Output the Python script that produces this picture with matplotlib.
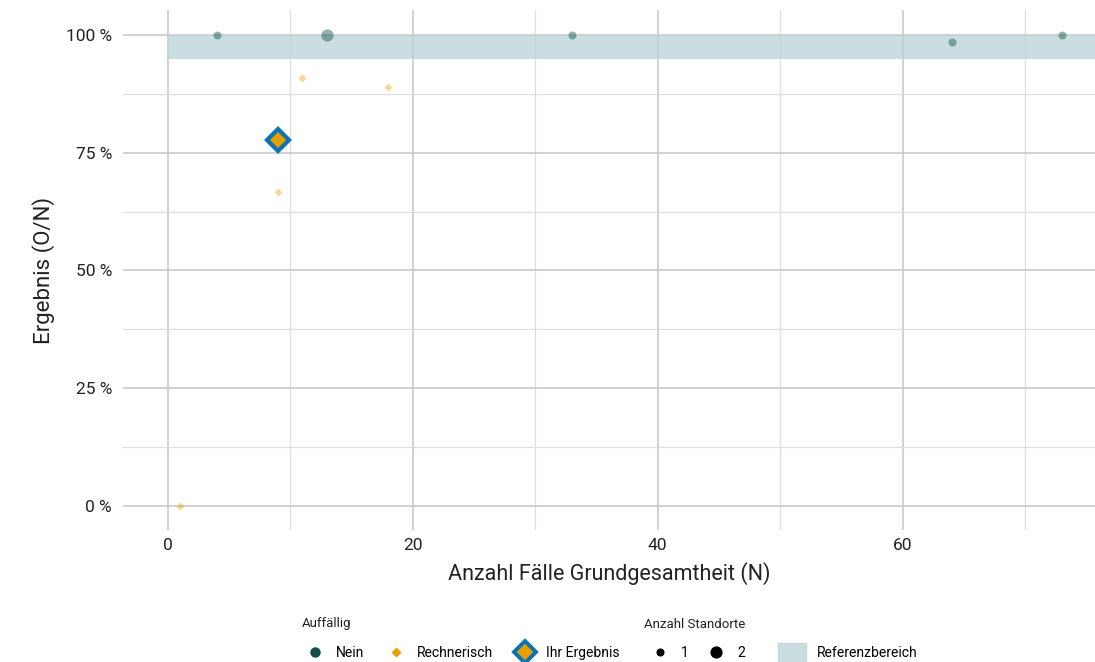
import matplotlib.pyplot as plt
from matplotlib.lines import Line2D
from matplotlib.patches import Patch
from matplotlib.ticker import FuncFormatter, MultipleLocator

plt.rcParams['font.family'] = ['Roboto', 'DejaVu Sans']

# Daten
nein_n = [4, 13, 33, 64, 73]
nein_erg = [1.0, 1.0, 1.0, 63 / 64, 1.0]
nein_standorte = [1, 2, 1, 1, 1]

rech_n = [1, 9, 11, 18]
rech_erg = [0.0, 6 / 9, 10 / 11, 16 / 18]

ihr_n = [9]
ihr_erg = [7 / 9]

ref_unten, ref_oben = 0.95, 1.0

teal = '#124f4b'
orange = '#e69f00'
blau = '#0a72b5'
band = '#b9d3d7'

W, H = 1095, 662
fig = plt.figure(figsize=(10.95, 6.62), dpi=100)
ax = fig.add_axes([123 / W, 1 - 530 / H, 1 - 123 / W, 520 / H])

ax.set_xlim(-3.65, 75.7)
ax.set_ylim(-0.051, 1.053)

# Referenzbereich (halbtransparent ueber dem Gitter)
ax.axhspan(ref_unten, ref_oben, xmin=3.65 / 79.35, xmax=1, color=band, alpha=0.75, zorder=2, lw=0)

# Punkte
groessen = {1: 5.8, 2: 8.8}
for x, y, s in zip(nein_n, nein_erg, nein_standorte):
    ax.plot(x, y, 'o', color=teal, alpha=0.45, ms=groessen[s], mec='none', zorder=3)
ax.plot(rech_n, rech_erg, 'D', color=orange, alpha=0.4, ms=4.2, mec='none', zorder=3)
ax.plot(ihr_n, ihr_erg, 'D', color=orange, ms=11, mec=blau, mew=3, zorder=4)

# Achsen
ax.xaxis.set_major_locator(MultipleLocator(20))
ax.xaxis.set_minor_locator(MultipleLocator(10))
ax.yaxis.set_major_locator(MultipleLocator(0.25))
ax.yaxis.set_minor_locator(MultipleLocator(0.125))
ax.yaxis.set_major_formatter(FuncFormatter(lambda v, p: f'{v * 100:.0f} %'))
ax.grid(which='major', color='#c9c9c9', lw=1.2, zorder=1)
ax.grid(which='minor', color='#dedede', lw=0.9, zorder=1)
ax.set_axisbelow(True)
for sp in ax.spines.values():
    sp.set_visible(False)
ax.tick_params(which='both', length=0, labelsize=12.5, colors='#222222', pad=6)
ax.tick_params(axis='y', pad=8)
ax.set_xlabel('Anzahl Fälle Grundgesamtheit (N)', fontsize=15.5, color='#222222', labelpad=6)
ax.set_ylabel('Ergebnis (O/N)', fontsize=16, color='#222222', labelpad=8)

# Legenden
leg_y = 1 - 653 / H
titel_y = 1 - 624 / H
fig.text(302 / W, titel_y, 'Auffällig', fontsize=9.5, color='#222222', va='center')
fig.text(644 / W, titel_y, 'Anzahl Standorte', fontsize=9.5, color='#222222', va='center')

h_auff = [
    Line2D([], [], marker='o', ls='none', color=teal, ms=7.5, mec='none'),
    Line2D([], [], marker='D', ls='none', color=orange, ms=5.5, mec='none'),
    Line2D([], [], marker='D', ls='none', color=orange, ms=11, mec=blau, mew=2.8),
]
fig.legend(h_auff, ['Nein', 'Rechnerisch', 'Ihr Ergebnis'],
           loc='center left', bbox_to_anchor=(304 / W, leg_y), ncol=3, frameon=False,
           fontsize=10, handletextpad=0.7, columnspacing=1.5, handlelength=1.6,
           borderpad=0, borderaxespad=0)
h_anz = [
    Line2D([], [], marker='o', ls='none', color='black', ms=5.8, mec='none'),
    Line2D([], [], marker='o', ls='none', color='black', ms=8.8, mec='none'),
]
fig.legend(h_anz, ['1', '2'],
           loc='center left', bbox_to_anchor=(649 / W, leg_y), ncol=2, frameon=False,
           fontsize=10, handletextpad=0.7, columnspacing=1.2, handlelength=1.6,
           borderpad=0, borderaxespad=0)
fig.legend([Patch(color=band, alpha=0.75)], ['Referenzbereich'],
           loc='center left', bbox_to_anchor=(778 / W, leg_y), frameon=False,
           fontsize=10, handlelength=2.0, handleheight=1.8, handletextpad=0.8,
           borderpad=0, borderaxespad=0)

fig.savefig('out.png', dpi=100)
